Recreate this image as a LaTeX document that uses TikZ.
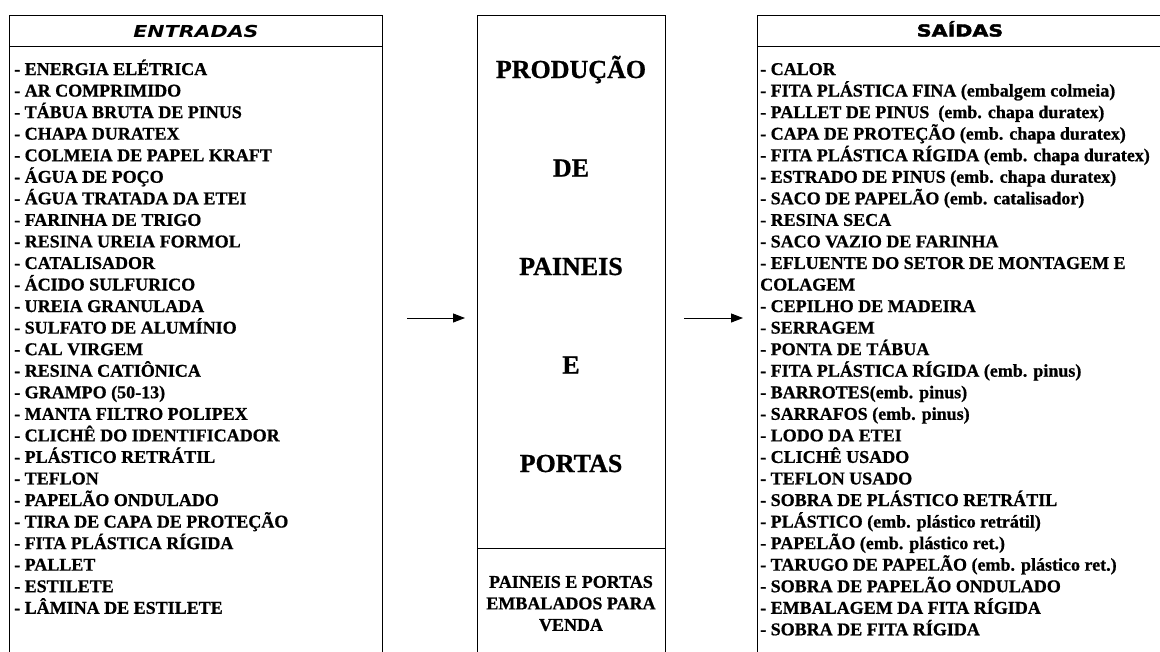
\documentclass[tikz,border=0pt]{standalone}
\usepackage{fontspec}
\setmainfont[BoldFeatures={FakeBold=0.8}]{Liberation Serif}
\newfontfamily\headfont[FakeStretch=1.25,BoldFeatures={FakeBold=2.5}]{DejaVu Sans}
\usetikzlibrary{arrows.meta}
\tikzset{
  box/.style={draw=black, line width=1pt, inner sep=0pt, anchor=north west},
  head/.style={inner sep=0pt, text height=12pt, text depth=0pt},
  item/.style={anchor=base west, inner sep=0pt, font=\bfseries\fontsize{18}{21.5}\selectfont},
  big/.style={anchor=base, inner sep=0pt, font=\bfseries\fontsize{26}{30}\selectfont},
  flow/.style={black, line width=1pt, -{Triangle[length=12pt,width=9pt]}}
}
\begin{document}
\begin{tikzpicture}[x=1pt,y=-1pt]
  \useasboundingbox (0,0) rectangle (1160,651);
  \node[box, minimum width=373pt, minimum height=31pt] (entHead) at (9,15) {};
  \node[head, font=\headfont\bfseries\itshape\fontsize{16.5}{18}\selectfont] (entTitle) at (entHead.center) {ENTRADAS};
  \node[box, minimum width=373pt, minimum height=620pt] (entList) at (9,46) {};
  \foreach \txt [count=\i from 0] in {- ENERGIA ELÉTRICA,- AR COMPRIMIDO,- TÁBUA BRUTA DE PINUS,- CHAPA DURATEX,- COLMEIA DE PAPEL KRAFT,- ÁGUA DE POÇO,- ÁGUA TRATADA DA ETEI,- FARINHA DE TRIGO,- RESINA UREIA FORMOL,- CATALISADOR,- ÁCIDO SULFURICO,- UREIA GRANULADA,- SULFATO DE ALUMÍNIO,- CAL VIRGEM,- RESINA CATIÔNICA,- GRAMPO (50-13),- MANTA FILTRO POLIPEX,- CLICHÊ DO IDENTIFICADOR,- PLÁSTICO RETRÁTIL,- TEFLON,- PAPELÃO ONDULADO,- TIRA DE CAPA DE PROTEÇÃO,- FITA PLÁSTICA RÍGIDA,- PALLET,- ESTILETE,- LÂMINA DE ESTILETE}
    \node[item] (ent\i) at (14,{75+21.55*\i}) {\txt};

  \node[box, minimum width=188pt, minimum height=533pt] (prod) at (477,15) {};
  \node[box, minimum width=188pt, minimum height=120pt] (venda) at (477,548) {};
  \foreach \txt [count=\i from 0] in {PRODUÇÃO,DE,PAINEIS,E,PORTAS}
    \node[big] (prod\i) at (571,{78+98.5*\i}) {\txt};
  \node[align=center, inner sep=0pt, font=\bfseries\fontsize{18}{21.5}\selectfont] (vendaTxt) at (571,603.5) {PAINEIS E PORTAS\\EMBALADOS PARA\\VENDA};

  \node[box, minimum width=413pt, minimum height=31pt] (saiHead) at (757,15) {};
  \node[head, font=\headfont\bfseries\fontsize{16.5}{18}\selectfont] (saiTitle) at (960,30.5) {SAÍDAS};
  \node[box, minimum width=413pt, minimum height=620pt] (saiList) at (757,46) {};
  \foreach \txt [count=\i from 0] in {- CALOR,- FITA PLÁSTICA FINA (embalgem colmeia),- PALLET DE PINUS~ (emb. chapa duratex),- CAPA DE PROTEÇÃO (emb. chapa duratex),- FITA PLÁSTICA RÍGIDA (emb. chapa duratex),- ESTRADO DE PINUS (emb. chapa duratex),- SACO DE PAPELÃO (emb. catalisador),- RESINA SECA,- SACO VAZIO DE FARINHA,- EFLUENTE DO SETOR DE MONTAGEM E,COLAGEM,- CEPILHO DE MADEIRA,- SERRAGEM,- PONTA DE TÁBUA,- FITA PLÁSTICA RÍGIDA (emb. pinus),- BARROTES(emb. pinus),- SARRAFOS (emb. pinus),- LODO DA ETEI,- CLICHÊ USADO,- TEFLON USADO,- SOBRA DE PLÁSTICO RETRÁTIL,- PLÁSTICO (emb. plástico retrátil),- PAPELÃO (emb. plástico ret.),- TARUGO DE PAPELÃO (emb. plástico ret.),- SOBRA DE PAPELÃO ONDULADO,- EMBALAGEM DA FITA RÍGIDA,- SOBRA DE FITA RÍGIDA}
    \node[item] (sai\i) at (760,{75+21.55*\i}) {\txt};

  \coordinate (arr) at (0,318);
  \draw[flow, shorten <=24pt, shorten >=12pt] (entList.east |- arr) -- (prod.west |- arr);
  \draw[flow, shorten <=18pt, shorten >=14pt] (prod.east |- arr) -- (saiList.west |- arr);
\end{tikzpicture}
\end{document}
